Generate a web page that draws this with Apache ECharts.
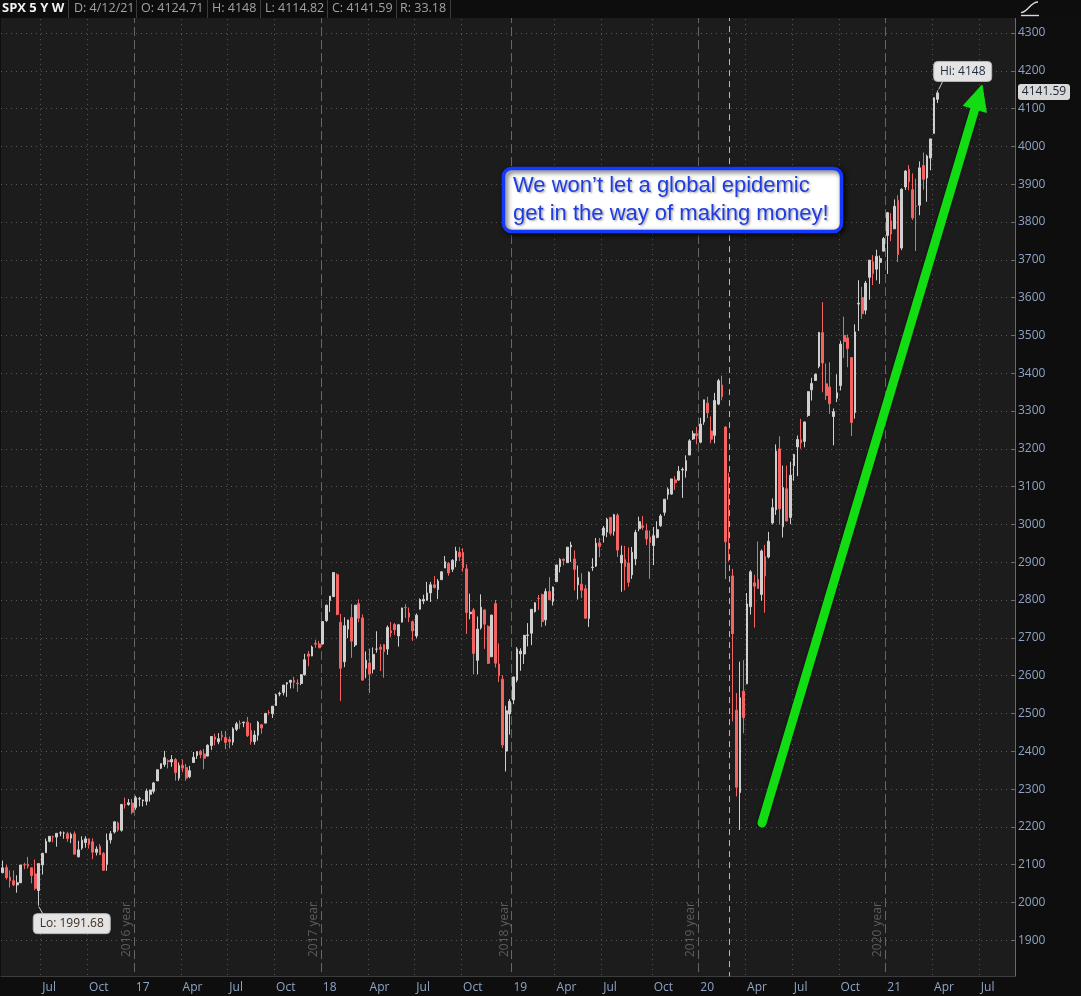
<!DOCTYPE html>
<html><head><meta charset="utf-8">
<script src="https://cdn.jsdelivr.net/npm/echarts@6/dist/echarts.min.js"></script>
<style>html,body{margin:0;padding:0;background:#0e0e0e;}#c{width:1081px;height:996px;}</style>
</head><body><div id="c"></div>
<script>
// ---------- data ----------
const firstWeek = '2016-04-18';
const weekSlots = 282;            // weekly slots incl. empty future weeks
// weekly bars [open, high, low, close]
const ohlc2016 = [
[2078.8,2111.0,2077.5,2091.6],[2092.3,2099.9,2060.8,2065.3],[2067.2,2084.9,2039.5,2057.1],[2057.6,2084.9,2043.0,2046.6],
[2046.5,2071.9,2025.9,2052.3],[2052.2,2099.3,2052.2,2099.1],[2100.0,2105.3,2088.1,2099.1],[2100.8,2120.6,2089.8,2096.1],
[2091.8,2093.0,2050.4,2071.2],[2075.6,2113.3,2032.6,2037.4],[2031.5,2103.0,1991.68,2102.9],[2099.3,2131.7,2074.0,2129.9],
[2131.7,2169.1,2131.7,2161.7],[2162.0,2175.6,2159.0,2175.0],[2173.7,2177.1,2159.8,2173.6],[2173.1,2182.9,2147.6,2182.9],
[2183.8,2188.5,2175.4,2184.1],[2183.7,2187.7,2168.5,2183.9],[2181.6,2187.0,2160.4,2169.0],[2170.2,2184.9,2157.1,2180.0],
[2181.6,2187.9,2127.8,2127.8],[2120.9,2163.3,2119.1,2139.2],[2144.0,2175.3,2139.2,2164.7],[2158.5,2175.3,2145.0,2168.3],
[2168.3,2169.0,2142.6,2153.7],[2160.4,2169.6,2114.7,2133.0],[2132.6,2148.4,2124.4,2141.2],[2148.5,2154.8,2125.7,2126.4],
[2129.8,2133.3,2083.8,2085.2],[2100.6,2182.3,2084.0,2164.4],[2165.6,2189.0,2156.1,2181.9],[2186.4,2213.4,2182.3,2213.4],
[2210.2,2214.1,2187.5,2192.0],[2191.0,2259.8,2187.4,2259.5],[2258.8,2277.5,2248.4,2258.1],[2259.2,2273.8,2256.1,2263.8],
[2263.0,2273.8,2233.6,2238.8]];
const ohlc2017 = [
[2251.6,2282.1,2245.1,2277.0],[2273.6,2279.3,2254.3,2274.6],[2269.1,2272.1,2254.0,2271.3],[2267.8,2301.0,2257.0,2294.7],
[2286.0,2298.3,2267.2,2297.4],[2294.3,2319.2,2288.5,2316.1],[2321.7,2351.3,2321.4,2351.2],[2354.9,2367.3,2352.9,2367.3],
[2365.2,2401.0,2358.9,2383.1],[2375.2,2378.8,2354.5,2372.6],[2371.6,2390.0,2358.9,2378.3],[2378.2,2382.0,2322.3,2344.0],
[2329.1,2370.4,2322.3,2362.7],[2362.3,2378.4,2344.5,2355.5],[2357.2,2366.4,2322.2,2329.0],[2332.6,2361.4,2328.7,2348.7],
[2370.3,2398.2,2370.3,2384.2],[2388.5,2399.3,2379.8,2399.3],[2399.9,2403.9,2381.7,2390.9],[2393.0,2405.8,2352.7,2381.7],
[2387.2,2418.7,2386.8,2415.8],[2415.6,2440.2,2403.6,2439.1],[2437.8,2446.2,2415.7,2431.8],[2425.2,2448.0,2418.7,2433.2],
[2442.5,2453.8,2428.5,2438.3],[2436.7,2453.8,2405.7,2423.4],[2431.4,2439.2,2407.7,2425.2],[2424.5,2463.5,2416.0,2459.3],
[2458.2,2477.6,2453.3,2472.5],[2473.5,2481.7,2459.4,2472.1],[2475.0,2478.5,2463.8,2476.8],[2477.1,2490.9,2437.8,2441.3],
[2455.0,2474.9,2417.4,2425.6],[2425.5,2454.8,2417.4,2443.1],[2442.3,2480.4,2428.2,2476.6],[2470.4,2472.1,2446.6,2461.4],
[2474.5,2500.2,2474.5,2500.2],[2502.5,2508.9,2496.7,2502.2],[2499.4,2519.4,2488.0,2519.4],[2521.2,2552.5,2520.4,2549.3],
[2551.4,2557.7,2545.5,2553.2],[2555.6,2575.4,2547.9,2575.2],[2578.1,2583.0,2544.0,2581.1],[2582.6,2588.4,2566.2,2587.8],
[2587.5,2597.0,2566.3,2582.3],[2580.4,2590.1,2557.4,2578.9],[2579.5,2604.2,2575.0,2602.4],[2602.7,2657.7,2600.0,2642.2],
[2657.2,2665.2,2624.8,2651.5],[2652.2,2679.6,2651.5,2675.8],[2685.9,2695.0,2673.6,2683.3],[2684.0,2692.1,2673.6,2673.6]];
const ohlc2018 = [
[2683.7,2743.2,2682.4,2743.2],[2745.6,2787.9,2742.4,2786.2],[2799.0,2810.3,2768.6,2810.3],[2809.2,2872.9,2808.1,2872.9],
[2867.2,2870.6,2760.0,2762.1],[2741.1,2763.4,2532.7,2619.6],[2636.8,2754.4,2622.5,2732.2],[2723.0,2747.8,2699.6,2747.3],
[2753.8,2789.2,2647.3,2691.3],[2681.1,2786.6,2675.8,2786.6],[2790.5,2801.9,2741.4,2752.0],[2752.7,2761.9,2585.9,2588.3],
[2619.4,2664.1,2593.0,2640.9],[2633.5,2672.1,2553.8,2604.5],[2617.2,2674.8,2605.9,2656.3],[2670.1,2717.5,2660.9,2670.1],
[2675.4,2683.6,2612.2,2669.9],[2682.1,2682.9,2594.6,2663.4],[2670.3,2732.9,2655.2,2727.7],[2718.6,2742.1,2701.9,2713.0],
[2735.4,2739.2,2707.4,2721.3],[2705.1,2736.9,2676.8,2734.6],[2741.7,2779.9,2740.5,2779.0],[2780.2,2789.1,2752.7,2779.7],
[2765.8,2780.2,2741.4,2754.9],[2742.9,2746.1,2692.0,2718.4],[2705.0,2764.4,2699.0,2759.8],[2775.6,2804.5,2775.6,2801.3],
[2797.4,2814.2,2789.2,2801.8],[2799.2,2848.0,2799.2,2818.8],[2819.0,2848.1,2795.1,2840.4],[2840.3,2863.4,2830.9,2833.3],
[2828.0,2855.6,2802.5,2850.1],[2853.9,2876.2,2853.9,2874.7],[2884.7,2916.5,2884.7,2901.5],[2897.0,2900.2,2864.1,2871.7],
[2881.4,2908.3,2874.3,2905.0],[2903.8,2940.9,2886.9,2929.7],[2926.3,2939.9,2903.3,2914.0],[2926.3,2937.1,2874.9,2885.6],
[2882.5,2894.8,2710.5,2767.1],[2763.8,2816.9,2749.0,2767.8],[2773.9,2778.9,2603.5,2658.7],[2640.7,2756.6,2603.5,2723.1],
[2726.4,2815.2,2722.0,2781.0],[2773.9,2776.0,2670.8,2736.3],[2730.7,2733.2,2631.1,2632.6],[2650.0,2760.9,2650.0,2760.2],
[2790.5,2800.2,2621.5,2633.1],[2630.9,2685.4,2583.2,2600.0],[2590.8,2601.1,2408.6,2416.6],[2400.6,2520.3,2346.6,2506.9]];
const ohlc2019 = [
[2498.9,2538.1,2444.0,2531.9],[2535.6,2597.8,2524.6,2596.3],[2588.1,2675.5,2582.6,2670.7],[2657.9,2672.4,2612.9,2664.8],
[2657.4,2708.0,2631.1,2706.5],[2706.5,2739.0,2677.3,2707.9],[2712.4,2775.7,2680.6,2775.6],[2769.3,2794.2,2767.1,2792.7],
[2804.4,2813.5,2774.2,2803.7],[2814.4,2816.9,2728.8,2743.1],[2747.6,2830.7,2732.5,2822.5],[2822.6,2860.3,2800.2,2800.7],
[2796.0,2836.0,2785.7,2834.4],[2848.6,2893.4,2848.6,2892.7],[2888.3,2910.5,2873.3,2907.4],[2908.3,2909.6,2891.9,2905.0],
[2898.8,2939.9,2898.8,2939.9],[2940.6,2954.1,2900.7,2945.6],[2908.9,2931.3,2825.4,2881.4],[2840.2,2891.3,2801.4,2859.5],
[2841.9,2871.1,2805.5,2826.1],[2830.0,2840.5,2750.5,2752.1],[2751.5,2876.0,2728.8,2873.3],[2885.8,2910.6,2877.0,2887.0],
[2889.8,2964.2,2887.3,2950.5],[2951.4,2964.2,2913.0,2941.8],[2971.4,2995.8,2952.2,2990.4],[2979.8,3017.8,2966.4,3013.8],
[3018.8,3018.8,2970.6,2976.6],[2981.9,3028.0,2970.4,3025.9],[3024.5,3029.2,2914.1,2932.1],[2898.1,2944.2,2822.1,2918.7],
[2907.1,2943.3,2825.7,2888.7],[2898.1,2939.1,2835.0,2847.1],[2866.7,2940.4,2856.0,2926.5],[2909.0,2985.9,2891.9,2978.7],
[2988.4,3020.7,2981.9,3007.4],[2996.4,3022.0,2985.7,2992.1],[2983.5,3002.4,2945.5,2961.8],[2967.1,2983.9,2856.0,2952.0],
[2944.2,2993.3,2892.7,2970.3],[2965.8,3008.3,2963.4,2986.2],[2996.5,3027.4,2993.6,3022.6],[3032.1,3066.9,3023.2,3066.9],
[3079.0,3097.8,3065.9,3093.1],[3080.3,3120.5,3078.5,3120.5],[3117.9,3127.6,3091.4,3110.3],[3117.4,3154.3,3115.3,3141.0],
[3143.8,3150.6,3070.3,3145.9],[3141.9,3182.7,3123.9,3168.8],[3183.6,3225.6,3183.6,3221.2],[3226.1,3247.9,3223.4,3240.0]];
const ohlc2020 = [
[3240.1,3258.1,3212.0,3234.9],[3217.6,3282.0,3214.6,3265.4],[3271.1,3329.9,3263.5,3329.6],[3321.0,3337.8,3281.5,3295.5],
[3247.2,3285.9,3214.7,3225.5],[3235.7,3348.0,3214.7,3327.7],[3318.3,3385.1,3315.5,3380.2],[3369.0,3393.5,3328.4,3337.8],
[3257.6,3259.8,2855.8,2954.2],[2974.3,3136.7,2901.5,2972.4],[2863.9,2882.6,2478.9,2711.0],[2508.6,2553.9,2280.5,2304.9],
[2290.7,2637.0,2191.9,2541.5],[2559.0,2641.4,2447.5,2488.7],[2578.3,2818.6,2578.3,2789.8],[2782.5,2879.2,2761.5,2874.6],
[2845.6,2867.0,2727.1,2836.7],[2854.7,2954.9,2830.3,2830.7],[2815.0,2934.0,2797.9,2929.8],[2915.5,2945.8,2766.6,2863.7],
[2913.9,2980.3,2910.3,2955.5],[3004.1,3068.7,2999.9,3044.3],[3038.8,3211.7,3025.2,3193.9],[3199.9,3233.1,2999.5,3041.3],
[2993.8,3155.5,2965.7,3097.7],[3094.4,3155.5,3008.9,3009.1],[3018.6,3165.8,3000.9,3130.0],[3155.3,3186.8,3115.7,3185.0],
[3205.1,3235.3,3127.7,3224.7],[3224.3,3279.3,3200.1,3215.6],[3219.8,3272.0,3204.1,3271.1],[3288.3,3352.5,3284.5,3351.3],
[3356.0,3387.9,3327.7,3372.9],[3380.9,3399.5,3379.3,3397.2],[3418.1,3509.2,3413.1,3508.0],[3507.4,3588.1,3349.6,3427.0],
[3371.9,3425.6,3329.3,3341.0],[3363.6,3428.9,3292.4,3319.5],[3285.6,3306.9,3209.5,3298.5],[3333.9,3397.2,3323.7,3348.4],
[3367.3,3485.9,3354.5,3477.1],[3500.0,3549.9,3440.5,3483.8],[3493.5,3502.4,3415.9,3465.4],[3441.4,3441.4,3233.9,3270.0],
[3296.2,3529.1,3279.7,3509.4],[3583.0,3646.0,3511.9,3585.2],[3600.2,3628.5,3543.8,3557.5],[3566.8,3644.3,3555.9,3638.4],
[3653.8,3699.2,3594.4,3699.1],[3694.7,3712.4,3633.4,3663.5],[3675.3,3726.7,3645.8,3709.4],[3693.4,3711.2,3636.5,3703.1],
[3723.0,3760.2,3723.0,3756.1]];
const ohlc2021 = [
[3764.6,3826.7,3662.7,3824.7],[3803.1,3823.6,3749.6,3768.3],[3781.9,3859.8,3781.9,3841.5],[3857.5,3870.9,3694.1,3714.2],
[3731.2,3889.0,3725.6,3886.8],[3892.6,3937.0,3884.9,3934.8],[3939.6,3950.4,3884.1,3906.7],[3885.6,3928.7,3805.6,3811.2],
[3842.5,3914.5,3723.3,3841.9],[3844.4,3960.3,3817.9,3943.3],[3949.6,3983.9,3885.5,3913.1],[3916.5,3978.2,3853.5,3974.5],
[3969.3,4020.6,3937.0,4019.9],[4034.4,4129.5,4034.4,4128.8],[4124.71,4148.0,4114.82,4141.59]];
const monthNames = ['Jan','Feb','Mar','Apr','May','Jun','Jul','Aug','Sep','Oct','Nov','Dec'];
const yearNotes = ['2016 year','2017 year','2018 year','2019 year','2020 year'];
const headerCells = ['SPX 5 Y W','D: 4/12/21','O: 4124.71','H: 4148','L: 4114.82','C: 4141.59','R: 33.18'];
const hiValue = 4148, loValue = 1991.68, lastClose = 4141.59;
const eventWeek = '2020-03-02';
const noteLines = ['We won\u2019t let a global epidemic','get in the way of making money!'];

// ---------- build ----------
const categories = [];
{ let t = Date.parse(firstWeek + 'T00:00:00Z');
  for (let i = 0; i < weekSlots; i++) { categories.push(new Date(t).toISOString().slice(0,10)); t += 7*86400000; } }
const bars = [].concat(ohlc2016, ohlc2017, ohlc2018, ohlc2019, ohlc2020, ohlc2021);
const candleData = bars.map(b => [b[0], b[3], b[2], b[1]]);
const monthOf = i => +categories[i].slice(5,7);
const isQuarterStart = i => i > 0 && [1,4,7,10].includes(monthOf(i)) && monthOf(i-1) !== monthOf(i);
const isYearStart = i => i > 0 && monthOf(i) === 1 && monthOf(i-1) !== 1;
const hiIdx = bars.findIndex(b => b[1] === hiValue);
const loIdx = bars.findIndex(b => b[2] === loValue);
const lastIdx = bars.length - 1;

const LABEL = '#8fa4c4';
const FONT = '"Open Sans", "DejaVu Sans", sans-serif';
const chart = echarts.init(document.getElementById('c'));
chart.setOption({
  animation: false,
  backgroundColor: '#0e0e0e',
  grid: { left: 1, right: 66, top: 14.1, bottom: 17.9, show: true, backgroundColor: '#1c1c1c', borderWidth: 0 },
  xAxis: [{
    type: 'category', data: categories, boundaryGap: true, offset: -2,
    axisLine: { lineStyle: { color: '#6a6a6a', width: 1 } },
    axisTick: { show: false },
    axisLabel: { interval: (i) => isQuarterStart(i), align: 'left', margin: 5, color: LABEL, fontSize: 12, fontFamily: FONT,
      formatter: (v) => { const m = +v.slice(5,7); return m === 1 ? v.slice(2,4) : monthNames[m-1]; } },
    splitLine: { show: true, interval: (i) => isQuarterStart(i) && !isYearStart(i), lineStyle: { color: '#585858', type: [1,4], width: 1 } }
  }, {
    type: 'category', data: categories, boundaryGap: true, position: 'bottom',
    axisLine: { show: false }, axisTick: { show: false }, axisLabel: { show: false },
    splitLine: { show: true, interval: (i) => isYearStart(i), lineStyle: { color: '#666', type: [9,4], width: 1 } }
  }],
  yAxis: {
    type: 'value', position: 'right', min: 1800, max: 4350, interval: 100, scale: false,
    axisLine: { show: true, lineStyle: { color: '#6a6a6a' } },
    axisTick: { show: true, inside: true, length: 4, lineStyle: { color: '#6a6a6a' } },
    axisLabel: { color: LABEL, fontSize: 12, fontFamily: FONT, margin: 3, showMinLabel: false, showMaxLabel: false,
      formatter: (v) => String(v) },
    splitLine: { show: true, lineStyle: { color: '#585858', type: [1,4], width: 1 } }
  },
  series: [{
    type: 'candlestick', xAxisIndex: 0, yAxisIndex: 0, data: candleData, barWidth: 2.2,
    itemStyle: { color: '#cfcfcf', color0: '#f46262', borderColor: '#cfcfcf', borderColor0: '#f46262', borderWidth: 1 },
    markLine: { silent: true, symbol: ['none','none'], label: { show: false },
      lineStyle: { color: '#aab2ff', type: [6,5], width: 1 }, data: [{ xAxis: eventWeek }] }
  }]
});

// ---------- overlays ----------
const P = (i, v) => chart.convertToPixel({ xAxisIndex: 0, yAxisIndex: 0 }, [i, v]);
const band = P(1, 2000)[0] - P(0, 2000)[0];
const g = [];
const T = (x, y, text, font, fill, align, extra) => Object.assign({ type: 'text', x, y, z: 100,
  style: Object.assign({ text, font, fill, textAlign: align || 'left', textVerticalAlign: 'middle', verticalAlign: 'middle' }, extra || {}) });
// header
g.push({ type: 'rect', z: 90, shape: { x: 0, y: 0, width: 1081, height: 18 }, style: { fill: '#0d0d0d' } });
const cellX = [2, 74, 141, 212, 265, 332, 400], sepX = [68.5, 136.5, 207.5, 260.5, 327.5, 396.5, 450.5];
headerCells.forEach((t, k) => g.push(T(cellX[k], 8.5, t, (k === 0 ? 'bold 13px ' : '12.5px ') + FONT, k === 0 ? '#f2f2f2' : '#a3a3a3')));
sepX.forEach(x => g.push({ type: 'line', z: 100, shape: { x1: x, y1: 0, x2: x, y2: 18 }, style: { stroke: '#3c3c3c', lineWidth: 1 } }));
// icon
g.push({ type: 'bezierCurve', z: 100, shape: { x1: 1021, y1: 12.5, cpx1: 1028, cpy1: 12.5, cpx2: 1030, cpy2: 2, x2: 1038, y2: 2 }, style: { stroke: '#d8d8d8', lineWidth: 1.4, fill: null } });
g.push({ type: 'line', z: 100, shape: { x1: 1021, y1: 15.5, x2: 1039, y2: 15.5 }, style: { stroke: '#d8d8d8', lineWidth: 1.4 } });
// bottom strip below axis line
g.push({ type: 'rect', z: 90, shape: { x: 0, y: 976.6, width: 1016, height: 3 }, style: { fill: '#0e0e0e' } });
// year notes
let yk = 0;
for (let i = 1; i < categories.length && yk < yearNotes.length; i++) {
  if (isYearStart(i)) {
    const x = P(i, 2000)[0] - band / 2;
    g.push(T(x - 7.5, 957, yearNotes[yk++], '12px ' + FONT, '#5c5c5c', 'left', {}));
    g[g.length - 1].rotation = Math.PI / 2;
  }
}
// Hi label
{ const [x0, y0] = P(hiIdx, hiValue);
  g.push({ type: 'line', z: 100, shape: { x1: x0 + 1, y1: y0 - 1, x2: x0 + 5, y2: y0 - 9 }, style: { stroke: '#cfcfcf', lineWidth: 1 } });
  g.push({ type: 'rect', z: 100, shape: { x: x0 - 4, y: y0 - 29, width: 58, height: 20, r: 4 }, style: { fill: '#e4e4e4', stroke: '#b5b5b5', lineWidth: 1 } });
  g.push(T(x0 + 25, y0 - 19, 'Hi: ' + hiValue, '12px ' + FONT, '#1f2c3f', 'center')); }
// Lo label
{ const [x0, y0] = P(loIdx, loValue);
  g.push({ type: 'line', z: 100, shape: { x1: x0, y1: y0 + 1, x2: x0 + 4, y2: y0 + 8 }, style: { stroke: '#cfcfcf', lineWidth: 1 } });
  g.push({ type: 'rect', z: 100, shape: { x: x0 - 5.5, y: y0 + 8, width: 77, height: 20, r: 4 }, style: { fill: '#e4e4e4', stroke: '#b5b5b5', lineWidth: 1 } });
  g.push(T(x0 + 33, y0 + 18, 'Lo: ' + loValue, '12px ' + FONT, '#3a2d20', 'center')); }
// last price tag
{ const y0 = P(lastIdx, lastClose)[1];
  g.push({ type: 'rect', z: 100, shape: { x: 1018, y: y0 - 9, width: 52, height: 16, r: 3 }, style: { fill: '#d9d9d9' } });
  g.push(T(1044, y0 - 1, lastClose.toFixed(2), '12px ' + FONT, '#1c2533', 'center')); }
// annotation box
g.push({ type: 'rect', z: 100, shape: { x: 503.5, y: 168.5, width: 338, height: 63, r: 8 },
  style: { fill: '#ffffff', stroke: '#1339ff', lineWidth: 3.5, shadowBlur: 5, shadowColor: 'rgba(0,0,0,0.7)', shadowOffsetX: 2, shadowOffsetY: 2 } });
noteLines.forEach((t, k) => g.push(T(513, 185.5 + k * 28, t, '22px "Liberation Sans", Arial, sans-serif', '#1e3ce2', 'left',
  { textShadowColor: 'rgba(0,0,0,0.35)', textShadowBlur: 2, textShadowOffsetX: 1.5, textShadowOffsetY: 1.5 })));
// green arrow
{ const sx = 762, sy = 823, tx = 982, ty = 85; const L = Math.hypot(tx - sx, ty - sy);
  const ux = (tx - sx) / L, uy = (ty - sy) / L, px = -uy, py = ux;
  const bx = tx - 25 * ux, by = ty - 25 * uy;
  g.push({ type: 'polyline', z: 100, shape: { points: [[sx, sy], [bx + 2 * ux, by + 2 * uy]] }, style: { stroke: '#12dc12', lineWidth: 9, lineCap: 'round', shadowBlur: 3, shadowColor: 'rgba(0,0,0,0.6)' } });
  g.push({ type: 'polygon', z: 100, shape: { points: [[tx, ty], [bx + 12 * px, by + 12 * py], [bx - 12 * px, by - 12 * py]] }, style: { fill: '#12dc12', stroke: '#12dc12', lineWidth: 1, lineJoin: 'round' } }); }
chart.setOption({ graphic: g });
</script></body></html>
